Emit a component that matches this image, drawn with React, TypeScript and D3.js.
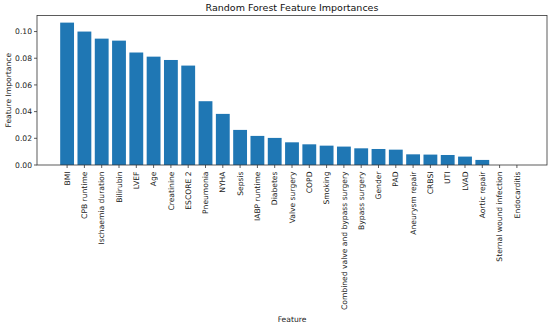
import React, { useEffect } from 'react';
import * as d3 from 'd3';

const features = [
  'BMI', 'CPB runtime', 'Ischaemia duration', 'Bilirubin', 'LVEF', 'Age', 'Creatinine',
  'ESCORE 2', 'Pneumonia', 'NYHA', 'Sepsis', 'IABP runtime', 'Diabetes', 'Valve surgery',
  'COPD', 'Smoking', 'Combined valve and bypass surgery', 'Bypass surgery', 'Gender', 'PAD',
  'Aneurysm repair', 'CRBSI', 'UTI', 'LVAD', 'Aortic repair', 'Sternal wound infection',
  'Endocarditis',
];
const importances = [
  0.1067, 0.1, 0.0947, 0.0932, 0.0843, 0.0812, 0.0787, 0.0745, 0.0478, 0.0383, 0.0263,
  0.0218, 0.0203, 0.017, 0.0155, 0.0145, 0.0138, 0.0125, 0.012, 0.0115, 0.008, 0.0078,
  0.0075, 0.0063, 0.0038, 0, 0,
];
const yTicks = [0, 0.02, 0.04, 0.06, 0.08, 0.1];

const W = 550;
const H = 326;
const plot = { left: 37, right: 547, top: 15.5, bottom: 165 };
const font = "'DejaVu Sans', sans-serif";

const App: React.FC = () => {
  useEffect(() => {
    document.body.style.margin = '0';
  }, []);

  // matplotlib style limits: bars 0.8 wide, 5% margins
  const n = features.length;
  const span = n - 1 + 0.8;
  const pad = span * 0.05;
  const x = d3.scaleLinear()
    .domain([-0.4 - pad, n - 1 + 0.4 + pad])
    .range([plot.left, plot.right]);
  const yMax = (d3.max(importances) as number) * 1.05;
  const y = d3.scaleLinear().domain([0, yMax]).range([plot.bottom, plot.top]);
  const bw = x(0.8) - x(0);

  return (
    <svg width={W} height={H} style={{ display: 'block', background: '#fff' }} fontFamily={font}>
      <text x={(plot.left + plot.right) / 2} y={11} textAnchor="middle" fontSize={9.5} fill="#111">
        Random Forest Feature Importances
      </text>

      {importances.map((v, i) => (
        <rect key={features[i]} x={x(i) - bw / 2} y={y(v)} width={bw} height={y(0) - y(v)} fill="#1f77b4" />
      ))}

      {/* y axis ticks */}
      {yTicks.map(t => (
        <g key={t} transform={`translate(${plot.left},${y(t)})`}>
          <line x1={-3} x2={0} stroke="#333" strokeWidth={0.8} />
          <text x={-5} dy="0.35em" textAnchor="end" fontSize={7.6} fill="#222">{d3.format('.2f')(t)}</text>
        </g>
      ))}

      {/* x axis ticks, labels rotated */}
      {features.map((f, i) => (
        <g key={f} transform={`translate(${x(i)},${plot.bottom})`}>
          <line y1={0} y2={3} stroke="#333" strokeWidth={0.8} />
          <text transform="translate(0,6.5) rotate(-90)" textAnchor="end" dy="0.35em" fontSize={7.6} fill="#222">{f}</text>
        </g>
      ))}

      <rect x={plot.left} y={plot.top} width={plot.right - plot.left} height={plot.bottom - plot.top}
        fill="none" stroke="#333" strokeWidth={0.8} />

      <text transform={`translate(8,${(plot.top + plot.bottom) / 2}) rotate(-90)`} textAnchor="middle"
        dy="0.35em" fontSize={7.6} fill="#222">Feature Importance</text>
      <text x={(plot.left + plot.right) / 2} y={322} textAnchor="middle" fontSize={7.6} fill="#222">Feature</text>
    </svg>
  );
};

export default App;
